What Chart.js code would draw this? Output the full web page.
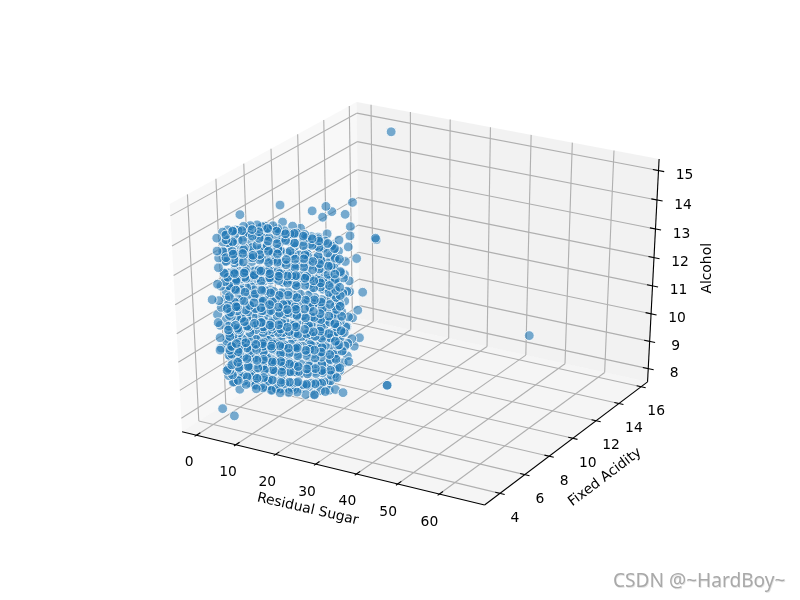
<!DOCTYPE html>
<html>
<head>
<meta charset="utf-8">
<style>html,body{margin:0;padding:0;background:#fff}canvas{display:block}</style>
<script src="https://cdn.jsdelivr.net/npm/chart.js@4"></script>
</head>
<body>
<canvas id="c" width="800" height="600"></canvas>
<script>
const xLabel = "Residual Sugar", yLabel = "Fixed Acidity", zLabel = "Alcohol";
const watermark = "CSDN @~HardBoy~";
const xTicks = [0,10,20,30,40,50,60];
const yTicks = [4,6,8,10,12,14,16];
const zTicks = [8,9,10,11,12,13,14,15];
const xLim = [-3.7,70.7], yLim = [2.78,16.58], zLim = [7.51,15.39];

const residualSugar = [
0.9,1.2,0.8,1.0,1.3,0.7,1.1,0.9,1.4,0.8,1.0,1.2,
1.0,1.3,0.8,1.1,1.5,0.9,1.2,0.7,1.4,1.0,0.8,1.6,1.1,0.9,1.3,1.0,
1.2,1.5,0.9,1.3,1.7,1.0,1.4,0.8,1.6,1.2,0.9,1.8,1.3,1.0,1.5,1.1,1.2,
1.4,1.1,1.8,1.5,1.0,1.6,1.3,1.9,1.2,1.5,1.7,1.1,1.4,1.8,1.2,1.6,1.3,
1.3,1.6,1.1,2.0,1.4,1.2,1.8,1.5,1.1,1.7,1.3,2.1,1.2,1.6,1.4,1.9,1.3,
2.0,1.6,2.4,1.8,2.6,1.5,2.2,1.9,2.7,1.6,2.1,2.5,1.7,2.3,1.9,2.6,2.0,
3.0,2.4,3.6,2.7,3.9,2.2,3.3,2.9,4.1,2.5,3.4,3.8,2.6,3.2,2.8,3.7,3.1,
4.0,3.3,4.7,3.6,5.1,3.1,4.4,3.8,5.3,3.4,4.5,4.9,3.5,4.2,3.7,4.8,4.1,
4.5,3.9,5.2,4.1,5.6,3.6,4.9,4.3,5.8,3.8,5.0,5.4,4.0,4.7,4.2,5.3,4.6,
5.0,4.3,5.8,4.6,6.2,4.0,5.4,4.8,6.4,4.2,5.5,6.0,4.4,5.2,4.7,5.9,5.1,
6.2,5.5,7.0,5.8,7.4,5.2,6.6,6.0,7.6,5.4,6.7,7.2,5.6,6.4,5.9,7.1,6.3,
7.0,6.2,7.9,6.5,8.3,6.0,7.5,6.8,8.5,6.1,7.6,8.1,6.3,7.2,6.7,8.0,7.1,
8.0,7.2,8.9,7.5,9.3,7.0,8.5,7.8,9.5,7.1,8.6,9.1,7.3,8.2,7.7,9.0,8.1,
9.0,8.2,9.9,8.5,10.3,8.0,9.5,8.8,10.5,8.1,9.6,10.1,8.3,9.2,8.7,10.0,9.1,
10.0,9.2,10.9,9.5,11.3,9.0,10.5,9.8,11.5,9.1,10.6,11.1,9.3,10.2,9.7,11.0,10.1,
11.0,10.2,11.9,10.5,12.3,10.0,11.5,10.8,12.5,10.1,11.6,12.1,10.3,11.2,10.7,12.0,11.1,
12.0,11.2,12.9,11.5,13.3,11.0,12.5,11.8,13.5,11.1,12.6,13.1,11.3,12.2,11.7,13.0,12.1,
13.0,12.2,13.9,12.5,14.3,12.0,13.5,12.8,14.5,12.1,13.6,14.1,12.3,13.2,12.7,14.0,13.1,
14.0,13.2,14.9,13.5,15.3,13.0,14.5,13.8,15.5,13.1,14.6,15.1,13.3,14.2,13.7,15.0,14.1,
15.0,14.3,15.8,14.5,16.2,14.1,15.5,14.8,16.4,14.2,15.6,16.0,14.4,15.2,14.7,
16.0,15.3,16.8,15.5,17.2,15.1,16.5,15.8,17.4,15.2,16.6,17.0,15.4,
16.0,15.4,16.6,15.7,16.9,15.2,16.3,15.8,
0.9,0.5,1.2,1.4,1.9,1.5,3.0,3.3,4.3,5.8,3.0,3.2,4.6,6.3,5.8,4.9,4.2,2.9,3.2,2.1,
8.7,10.5,10.4,10.8,11.2,12.7,14.4,15.7,16.3,14.7,18.1,23.1,21.2,19.2,20.3,7.8,5.8,4.2,2.1,1.7,
0.8,0.6,0.5,1.2,6.3,8.2,65.8,31.6,31.6,
2.5,2.1,3.0,2.3,2.9,2.0,2.7,3.2,2.2,2.8,2.4,3.1,2.0,2.6,2.3,
3.5,3.0,4.1,3.2,3.9,2.8,3.7,4.3,3.1,3.6,2.9,4.0,3.3,3.8,3.0,3.4,
4.0,3.4,4.7,3.7,4.5,3.2,4.2,4.9,3.5,4.1,3.3,4.6,3.8,4.4,3.6,3.9,4.3,
5.5,4.8,6.2,5.1,6.0,4.6,5.7,6.4,4.9,5.6,4.7,6.1,5.2,5.9,5.0,5.4,5.8,
6.5,5.8,7.2,6.1,7.0,5.6,6.7,7.4,5.9,6.6,5.7,7.1,6.2,6.9,6.0,6.4,6.8,
8.0,7.3,8.7,7.6,8.5,7.1,8.2,8.9,7.4,8.1,7.2,8.6,7.7,8.4,7.5,7.9,8.3,
9.5,8.8,10.2,9.1,10.0,8.6,9.7,10.4,8.9,9.6,8.7,10.1,9.2,9.9,9.0,9.4,9.8,
11.0,10.3,11.7,10.6,11.5,10.1,11.2,11.9,10.4,11.1,10.2,11.6,10.7,11.4,10.5,10.9,11.3,
12.5,11.8,13.2,12.1,13.0,11.6,12.7,13.4,11.9,12.6,11.7,13.1,12.2,12.9,12.0,12.4,12.8,
14.0,13.3,14.7,13.6,14.5,13.1,14.2,14.9,13.4,14.1,13.2,14.6,13.7,14.4,13.5,13.9,14.3,
15.5,14.8,16.2,15.1,16.0,14.6,15.7,16.4,14.9,15.6,14.7,16.1,15.2,15.9,15.0,15.4,15.8,
16.5,15.8,17.2,16.1,17.0,15.6,16.7,17.4,15.9,16.6,15.7,17.1,16.2,16.9,16.0,16.4,16.8,
18.0,17.3,18.7,17.6,18.5,17.1,18.2,18.9,17.4,18.1,17.2,18.6,17.7,18.4,17.5,18.3,
19.0,18.4,19.6,18.7,19.4,18.2,19.2,19.7,18.5,19.1,18.3,19.5,18.8,19.3,
19.5,19.0,20.1,19.2,19.8,18.8,19.6,20.0,19.1,19.4,
0.7,0.9,1.2,0.6,1.0,1.4,0.8,1.1,0.7,1.3,0.9,1.5,0.6,1.0,0.8,1.2,
1.0,1.3,0.8,1.6,1.1,0.9,1.4,1.8,0.7,1.2,1.5,1.0,1.7,0.8,1.3,1.1,
1.1,1.5,0.9,1.9,1.2,1.0,1.6,2.0,0.8,1.4,1.7,1.1,1.8,0.9,1.5,1.2,
1.2,1.6,1.0,2.1,1.3,1.1,1.7,2.3,0.9,1.5,1.9,1.2,2.0,1.0,
1.5,1.9,1.2,2.4,1.6,1.3,2.0,2.6,1.1,1.8,2.2,1.4,2.3,
1.0,1.5,1.2,2.0,1.1,1.4,1.8,2.5,1.3,1.7,2.2,1.0,
1.2,1.7,1.0,2.2,1.4,1.1,1.9,2.4,1.3,1.6,1.0,
1.5,2.0,1.3,2.5,1.7,1.4,2.2,2.7,
1.1,1.9,0.8,2.4,1.4,0.7,2.8,1.0,2.2,0.9,2.6,1.3,1.7,
1.5,2.4,0.9,3.0,1.9,0.8,3.3,1.2,2.7,1.0,3.1,1.6,2.1,1.3,
2.1,3.2,1.3,3.8,2.5,1.2,4.2,1.8,3.4,1.5,3.9,2.2,2.9,1.9,
4.1,5.2,3.1,5.8,4.5,3.0,6.2,3.7,5.4,3.3,5.9,4.2,4.9,3.9,4.5,
5.1,6.3,4.0,6.9,5.5,3.9,7.2,4.6,6.4,4.2,6.9,5.2,5.9,4.8,5.5,
7.1,8.3,5.9,8.9,7.5,5.8,9.2,6.6,8.4,6.2,8.9,7.2,7.9,6.8,7.5,
9.1,10.3,7.9,10.9,9.5,7.8,11.2,8.6,10.4,8.2,10.9,9.2,9.9,8.8,9.5,
11.1,12.3,9.9,12.9,11.5,9.8,13.2,10.6,12.4,10.2,12.9,11.2,11.9,10.8,11.5,
13.1,14.2,12.0,14.7,13.5,11.9,15.0,12.6,14.3,12.2,14.7,13.2,13.9,12.8,13.5,
15.1,16.1,14.1,16.6,15.5,14.0,16.8,14.6,16.2,14.3,16.6,15.2,15.8,
1.0,1.4,2.0,4.0,5.0,7.0,9.0,11.0,13.0,15.0,16.0,
2.2,2.6,3.2,5.2,6.2,8.2,10.2,12.2,14.2,16.2,17.2,
1.6,2.0,2.6,4.6,5.6,7.6,9.6,11.6,13.6,15.6,16.6,
1.3,2.2,2.8,3.6,5.8,6.6,9.8,10.6,13.8,14.6,16.8,
1.9,1.1,3.4,4.4,4.6,8.4,8.6,12.4,12.6,16.4,15.6
];
const fixedAcidity = [
4.6,4.5,4.7,4.6,4.4,4.8,4.5,4.7,4.3,4.6,4.5,4.4,
5.0,4.9,5.1,5.0,4.8,5.2,5.0,5.1,4.9,5.0,5.2,4.8,5.0,5.1,4.9,5.0,
5.3,5.2,5.4,5.3,5.1,5.4,5.3,5.4,5.2,5.3,5.4,5.2,5.3,5.4,5.2,5.3,5.3,
5.6,5.7,5.5,5.6,5.7,5.5,5.6,5.4,5.7,5.6,5.5,5.7,5.6,5.5,5.7,5.6,5.5,
6.0,5.9,6.1,5.8,6.0,6.1,5.9,6.0,6.1,5.9,6.0,5.8,6.1,6.0,5.9,5.8,6.0,
6.2,6.3,6.1,6.2,6.1,6.4,6.2,6.3,6.1,6.3,6.2,6.1,6.3,6.2,6.3,6.1,6.2,
6.4,6.5,6.3,6.4,6.3,6.6,6.4,6.5,6.3,6.5,6.4,6.3,6.5,6.4,6.5,6.3,6.4,
6.6,6.7,6.5,6.6,6.5,6.8,6.6,6.7,6.5,6.7,6.6,6.5,6.7,6.6,6.7,6.5,6.6,
6.8,6.9,6.7,6.8,6.7,7.0,6.8,6.9,6.7,6.9,6.8,6.7,6.9,6.8,6.9,6.7,6.8,
7.0,7.1,6.9,7.0,6.9,7.2,7.0,7.1,6.9,7.1,7.0,6.9,7.1,7.0,7.1,6.9,7.0,
7.1,7.0,6.8,7.1,7.0,7.1,6.9,7.2,6.8,7.0,7.1,6.8,7.2,6.9,7.0,7.1,6.9,
7.2,7.3,7.1,7.2,7.1,7.4,7.2,7.3,7.1,7.3,7.2,7.1,7.3,7.2,7.3,7.1,7.2,
7.4,7.5,7.3,7.4,7.3,7.6,7.4,7.5,7.3,7.5,7.4,7.3,7.5,7.4,7.5,7.3,7.4,
7.5,7.6,7.4,7.5,7.4,7.7,7.5,7.6,7.4,7.6,7.5,7.4,7.6,7.5,7.6,7.4,7.5,
7.7,7.8,7.6,7.7,7.6,7.9,7.7,7.8,7.6,7.8,7.7,7.6,7.8,7.7,7.8,7.6,7.7,
8.0,8.1,7.9,8.0,7.9,8.2,8.0,8.1,7.9,8.1,8.0,7.9,8.1,8.0,8.1,7.9,8.0,
8.2,8.3,8.1,8.2,8.1,8.4,8.2,8.3,8.1,8.3,8.2,8.1,8.3,8.2,8.3,8.1,8.2,
8.4,8.5,8.3,8.4,8.3,8.6,8.4,8.5,8.3,8.5,8.4,8.3,8.5,8.4,8.5,8.3,8.4,
8.6,8.7,8.5,8.6,8.5,8.8,8.6,8.7,8.5,8.7,8.6,8.5,8.7,8.6,8.7,8.5,8.6,
8.8,8.9,8.7,8.8,8.7,9.0,8.8,8.9,8.7,8.9,8.8,8.7,8.9,8.8,8.9,
9.0,9.1,8.9,9.0,8.9,9.2,9.0,9.1,8.9,9.1,9.0,8.9,9.1,
9.5,9.6,9.4,9.5,9.4,9.7,9.5,9.6,
9.2,6.4,11.5,12.5,12.8,12.2,13.5,14.0,13.5,13.0,15.9,15.9,12.5,12.7,13.5,11.5,11.0,9.5,10.0,9.0,
12.0,12.5,11.5,12.0,11.0,11.0,11.0,10.0,10.0,9.0,9.0,7.0,7.0,6.0,6.5,6.5,6.5,6.0,5.0,4.7,
4.6,4.5,4.2,4.4,3.8,15.6,7.8,7.8,7.8,
4.8,4.9,4.6,4.8,4.7,5.0,4.8,4.7,4.9,4.6,4.8,4.7,5.0,4.8,4.9,
5.0,5.1,4.8,5.1,4.9,5.3,5.0,4.8,5.2,4.9,5.3,4.8,5.1,4.9,5.2,5.0,
5.5,5.7,5.3,5.6,5.4,5.8,5.5,5.2,5.7,5.4,5.8,5.3,5.6,5.4,5.7,5.5,5.3,
5.8,6.0,5.6,5.9,5.7,6.1,5.8,5.5,6.0,5.7,6.1,5.6,5.9,5.7,6.0,5.8,5.6,
6.0,6.2,5.8,6.1,5.9,6.3,6.0,5.7,6.2,5.9,6.3,5.8,6.1,5.9,6.2,6.0,5.8,
6.2,6.4,6.0,6.3,6.1,6.5,6.2,5.9,6.4,6.1,6.5,6.0,6.3,6.1,6.4,6.2,6.0,
6.4,6.6,6.2,6.5,6.3,6.7,6.4,6.1,6.6,6.3,6.7,6.2,6.5,6.3,6.6,6.4,6.2,
6.6,6.8,6.4,6.7,6.5,6.9,6.6,6.3,6.8,6.5,6.9,6.4,6.7,6.5,6.8,6.6,6.4,
6.8,7.0,6.6,6.9,6.7,7.1,6.8,6.5,7.0,6.7,7.1,6.6,6.9,6.7,7.0,6.8,6.6,
7.0,7.2,6.8,7.1,6.9,7.3,7.0,6.7,7.2,6.9,7.3,6.8,7.1,6.9,7.2,7.0,6.8,
7.2,7.4,7.0,7.3,7.1,7.5,7.2,6.9,7.4,7.1,7.5,7.0,7.3,7.1,7.4,7.2,7.0,
7.4,7.6,7.2,7.5,7.3,7.7,7.4,7.1,7.6,7.3,7.7,7.2,7.5,7.3,7.6,7.4,7.2,
7.6,7.8,7.4,7.7,7.5,7.9,7.6,7.3,7.8,7.5,7.9,7.4,7.7,7.5,7.8,7.4,
7.8,8.0,7.6,7.9,7.7,8.1,7.8,7.5,8.0,7.7,8.1,7.6,7.9,7.7,
8.0,8.2,7.8,8.1,7.9,8.3,8.0,7.7,8.2,7.9,
6.0,5.8,5.7,6.1,5.9,5.6,6.0,5.8,6.2,5.7,5.9,5.6,6.1,5.8,6.0,5.7,
7.0,6.9,7.1,6.8,7.0,7.2,6.9,6.7,7.2,7.0,6.8,7.1,6.7,7.2,6.9,7.0,
8.0,7.9,8.1,7.8,8.0,8.2,7.9,7.7,8.2,8.0,7.8,8.1,7.7,8.2,7.9,8.0,
9.0,8.9,9.1,8.8,9.0,9.2,8.9,8.7,9.2,9.0,8.8,9.1,8.7,9.2,
10.0,9.9,10.1,9.7,10.0,10.2,9.9,9.7,10.2,10.0,9.8,10.1,9.7,
11.0,10.9,11.1,10.7,11.0,11.2,10.9,10.7,11.2,11.0,10.8,11.1,
12.0,11.9,12.1,11.7,12.0,12.2,11.9,11.7,12.2,12.0,11.8,
13.0,12.9,13.1,12.7,13.0,13.2,12.9,12.7,
5.1,4.7,5.3,4.6,4.9,5.4,4.6,5.2,4.8,5.4,4.7,5.1,4.9,
5.7,5.2,6.0,5.1,5.5,6.1,5.2,5.9,5.3,6.1,5.2,5.7,5.4,5.8,
6.3,5.8,6.7,5.7,6.1,6.8,5.8,6.5,5.9,6.7,5.8,6.3,6.0,6.4,
6.7,6.2,7.1,6.1,6.5,7.2,6.2,6.9,6.3,7.1,6.2,6.7,6.4,6.8,6.3,
7.1,6.6,7.5,6.5,6.9,7.6,6.6,7.3,6.7,7.5,6.6,7.1,6.8,7.2,6.7,
7.3,6.8,7.7,6.7,7.1,7.8,6.8,7.5,6.9,7.7,6.8,7.3,7.0,7.4,6.9,
7.6,7.1,8.0,7.0,7.4,8.1,7.1,7.8,7.2,8.0,7.1,7.6,7.3,7.7,7.2,
8.1,7.6,8.5,7.5,7.9,8.6,7.6,8.3,7.7,8.5,7.6,8.1,7.8,8.2,7.7,
8.5,8.0,8.9,7.9,8.3,9.0,8.0,8.7,8.1,8.9,8.0,8.5,8.2,8.6,8.1,
8.9,8.4,9.2,8.3,8.7,9.3,8.4,9.1,8.5,9.2,8.4,8.9,8.6,
5.0,5.6,6.2,6.6,7.0,7.2,7.5,8.0,8.4,8.8,9.0,
5.0,5.6,6.2,6.6,7.0,7.2,7.5,8.0,8.4,8.8,9.0,
5.0,5.6,6.2,6.6,7.0,7.2,7.5,8.0,8.4,8.8,9.0,
5.1,5.5,6.3,6.5,7.1,7.1,7.6,7.9,8.5,8.7,9.1,
4.9,5.7,6.1,6.7,6.9,7.3,7.4,8.1,8.3,8.9,8.9
];
const alcohol = [
13.9,13.5,13.2,12.9,12.4,12.2,11.8,11.5,11.1,10.9,10.5,10.1,
14.0,13.7,13.3,13.0,12.7,12.3,12.0,11.7,11.4,11.0,10.7,10.3,10.0,9.7,9.3,9.0,
14.0,13.6,13.4,13.0,12.6,12.4,12.0,11.6,11.3,11.0,10.7,10.4,10.0,9.7,9.4,9.0,8.7,
13.9,13.5,13.2,12.8,12.5,12.1,11.9,11.5,11.2,10.9,10.5,10.2,9.9,9.5,9.2,8.9,8.7,
13.8,13.5,13.1,12.8,12.4,12.1,11.8,11.4,11.1,10.8,10.4,10.1,9.8,9.4,9.1,8.8,8.5,
13.9,13.5,13.2,12.9,12.5,12.2,11.8,11.5,11.0,10.7,10.4,10.0,9.7,9.3,9.0,8.7,8.4,
13.9,13.6,13.2,12.8,12.4,12.1,11.7,11.4,11.1,10.7,10.3,10.0,9.6,9.3,9.0,8.6,8.3,
13.9,13.5,13.1,12.8,12.4,12.0,11.7,11.3,11.0,10.6,10.3,9.9,9.6,9.2,8.9,8.5,8.2,
13.8,13.4,13.1,12.7,12.3,12.0,11.6,11.3,10.9,10.6,10.2,9.9,9.5,9.2,8.8,8.5,8.2,
13.7,13.4,13.0,12.7,12.3,11.9,11.6,11.2,10.9,10.5,10.2,9.8,9.5,9.1,8.8,8.4,8.0,
13.8,13.4,13.0,12.6,12.3,11.9,11.6,11.2,10.8,10.5,10.1,9.8,9.4,9.1,8.7,8.4,8.1,
13.7,13.3,13.0,12.6,12.2,11.9,11.5,11.2,10.8,10.4,10.1,9.7,9.4,9.0,8.7,8.3,8.0,
13.6,13.3,12.9,12.5,12.2,11.8,11.5,11.1,10.8,10.4,10.0,9.7,9.3,9.0,8.6,8.3,8.0,
13.5,13.2,12.8,12.5,12.1,11.8,11.4,11.1,10.7,10.3,10.0,9.6,9.3,8.9,8.6,8.3,8.0,
13.5,13.1,12.8,12.4,12.1,11.7,11.4,11.0,10.7,10.3,9.9,9.6,9.2,8.9,8.5,8.2,8.0,
13.4,13.1,12.7,12.4,12.0,11.7,11.3,11.0,10.6,10.3,9.9,9.6,9.2,8.9,8.5,8.2,8.0,
13.3,13.0,12.6,12.3,11.9,11.6,11.2,10.9,10.5,10.2,9.8,9.5,9.1,8.8,8.5,8.2,8.0,
13.2,12.9,12.5,12.2,11.8,11.5,11.1,10.8,10.4,10.1,9.8,9.4,9.1,8.8,8.5,8.2,8.0,
13.1,12.8,12.4,12.1,11.8,11.4,11.1,10.7,10.4,10.1,9.7,9.4,9.1,8.8,8.5,8.2,8.0,
12.9,12.5,12.2,11.8,11.5,11.2,10.8,10.5,10.2,9.8,9.5,9.2,8.9,8.5,8.2,
12.7,12.3,12.0,11.6,11.3,10.9,10.6,10.2,9.9,9.6,9.2,8.8,8.4,
12.2,11.7,11.2,10.8,10.3,9.8,9.3,8.8,
13.8,14.2,13.0,12.9,12.65,12.6,12.4,12.7,12.0,11.85,10.9,10.85,11.8,11.55,10.9,12.3,12.3,13.05,12.85,13.3,
10.6,10.1,10.4,9.6,9.3,9.67,9.0,9.3,9.05,9.8,8.85,8.5,8.55,8.6,8.6,8.3,8.5,8.45,8.8,9.3,
10.1,11.3,11.9,8.0,8.1,14.9,11.65,8.8,8.8,
14.0,13.8,13.3,13.1,12.6,12.2,11.9,11.4,11.2,10.8,10.5,10.2,9.8,9.5,9.1,
14.1,13.7,13.4,13.1,12.7,12.3,12.1,11.6,11.3,10.9,10.6,10.3,9.9,9.6,9.3,8.9,
14.0,13.6,13.3,12.9,12.6,12.3,11.9,11.7,11.2,10.9,10.6,10.2,9.9,9.6,9.2,8.9,8.7,
14.0,13.7,13.2,13.0,12.5,12.3,11.8,11.6,11.2,10.8,10.6,10.1,9.8,9.5,9.1,8.8,8.5,
13.9,13.6,13.2,12.9,12.6,12.1,11.9,11.4,11.1,10.8,10.5,10.1,9.7,9.5,9.0,8.8,8.5,
14.0,13.5,13.3,12.8,12.5,12.2,11.8,11.5,11.1,10.7,10.5,10.0,9.8,9.4,9.0,8.7,8.4,
13.9,13.4,13.2,12.8,12.4,12.1,11.7,11.4,11.0,10.7,10.4,10.0,9.6,9.4,8.9,8.6,8.3,
13.8,13.5,13.0,12.7,12.4,12.0,11.7,11.3,11.0,10.6,10.3,9.9,9.6,9.3,8.9,8.6,8.3,
13.8,13.4,13.0,12.6,12.4,11.9,11.6,11.3,10.9,10.6,10.2,9.9,9.5,9.2,8.9,8.6,8.3,
13.7,13.3,13.0,12.6,12.3,11.9,11.5,11.3,10.8,10.5,10.2,9.8,9.5,9.1,8.8,8.5,8.2,
13.6,13.3,12.9,12.5,12.2,11.8,11.5,11.2,10.8,10.4,10.1,9.8,9.4,9.1,8.8,8.5,8.2,
13.5,13.2,12.8,12.5,12.1,11.8,11.4,11.1,10.7,10.4,10.0,9.7,9.4,9.0,8.8,8.5,8.3,
13.4,13.0,12.7,12.3,12.0,11.6,11.3,11.0,10.6,10.3,10.0,9.6,9.3,9.0,8.7,8.3,
13.2,12.8,12.4,12.1,11.8,11.4,11.1,10.7,10.4,10.0,9.7,9.4,9.0,8.7,
12.8,12.3,11.9,11.5,11.2,10.7,10.3,9.9,9.5,9.0,
13.8,13.4,13.0,12.7,12.2,11.9,11.5,11.2,10.7,10.4,10.0,9.6,9.3,9.0,8.6,8.3,
13.6,13.2,12.8,12.5,12.1,11.7,11.3,11.0,10.6,10.2,9.9,9.5,9.1,8.8,8.5,8.2,
13.4,13.0,12.6,12.3,11.9,11.6,11.1,10.8,10.5,10.1,9.7,9.4,9.0,8.7,8.4,8.1,
13.0,12.6,12.2,11.9,11.5,11.1,10.8,10.4,10.0,9.7,9.3,8.9,8.6,8.2,
12.6,12.2,11.9,11.5,11.1,10.7,10.4,10.0,9.6,9.3,8.9,8.5,8.1,
12.2,11.8,11.4,11.1,10.7,10.3,10.0,9.6,9.2,8.9,8.5,8.1,
11.9,11.5,11.1,10.7,10.3,10.0,9.6,9.2,8.9,8.5,8.1,
11.4,11.0,10.6,10.2,9.9,9.5,9.1,8.6,
13.85,13.45,13.15,12.75,12.35,11.95,11.55,11.15,10.85,10.45,10.05,9.65,9.25,
13.75,13.35,12.95,12.65,12.25,11.85,11.45,11.05,10.65,10.35,9.95,9.55,9.15,8.75,
13.65,13.25,12.85,12.55,12.15,11.65,11.35,10.95,10.55,10.15,9.75,9.45,9.05,8.65,
13.75,13.35,12.95,12.55,12.25,11.75,11.45,11.05,10.65,10.25,9.85,9.45,9.05,8.65,8.35,
13.65,13.25,12.85,12.45,12.05,11.75,11.35,10.95,10.55,10.25,9.85,9.45,9.05,8.65,8.25,
13.55,13.15,12.75,12.35,12.05,11.65,11.25,10.85,10.55,10.15,9.75,9.35,8.95,8.55,8.15,
13.45,13.05,12.65,12.25,11.95,11.55,11.15,10.85,10.45,10.05,9.65,9.35,8.95,8.55,8.15,
13.25,12.85,12.55,12.15,11.85,11.45,11.05,10.75,10.35,9.95,9.55,9.25,8.85,8.55,8.15,
13.05,12.75,12.35,11.95,11.65,11.25,10.95,10.55,10.25,9.85,9.55,9.15,8.85,8.45,8.15,
12.75,12.35,11.95,11.65,11.25,10.95,10.65,10.25,9.95,9.55,9.25,8.85,8.45,
10.33,10.17,10.02,9.96,9.88,9.88,9.85,9.78,9.73,9.67,9.64,
10.08,9.92,9.77,9.71,9.63,9.63,9.6,9.53,9.48,9.42,9.39,
10.54,10.38,10.23,10.17,10.09,10.09,10.06,9.99,9.94,9.88,9.85,
12.45,12.29,12.13,12.08,11.99,12.0,11.97,11.9,11.84,11.79,11.76,
11.56,11.41,11.25,11.2,11.1,11.1,11.08,11.0,10.96,10.9,10.87
];

// View of the 3D box: elevation 30, azimuth -60, distance 10
const D2R = Math.PI / 180;
const EL = 30 * D2R, AZ = -60 * D2R, DIST = 10;
const N = [Math.cos(EL)*Math.cos(AZ), Math.cos(EL)*Math.sin(AZ), Math.sin(EL)];
const U = [-N[1], N[0], 0].map(v => v / Math.hypot(N[0], N[1]));
const W = [N[1]*U[2]-N[2]*U[1], N[2]*U[0]-N[0]*U[2], N[0]*U[1]-N[1]*U[0]];
function proj(fx, fy, fz) {
  const p = [fx-.5, fy-.5, fz-.5];
  const dot = a => a[0]*p[0]+a[1]*p[1]+a[2]*p[2];
  const d = DIST - dot(N);
  return { x: dot(U)/d, y: dot(W)/d, d };
}
const fX = v => (v-xLim[0])/(xLim[1]-xLim[0]);
const fY = v => (v-yLim[0])/(yLim[1]-yLim[0]);
const fZ = v => (v-zLim[0])/(zLim[1]-zLim[0]);

const points = residualSugar.map((s,i) => proj(fX(s), fY(fixedAcidity[i]), fZ(alcohol[i])))
  .sort((a,b) => b.d - a.d);

const box3d = {
  id: 'box3d',
  beforeDatasetsDraw(chart) {
    const c = chart.ctx, sx = chart.scales.x, sy = chart.scales.y;
    const P = (a,b,e) => { const q = proj(a,b,e); return [sx.getPixelForValue(q.x), sy.getPixelForValue(q.y)]; };
    const poly = (pts, col) => { c.beginPath(); pts.forEach((t,i)=>{ const q=P(...t); i?c.lineTo(q[0],q[1]):c.moveTo(q[0],q[1]); }); c.closePath(); c.fillStyle=col; c.fill(); };
    const line = (a,b,col,w) => { const p=P(...a), q=P(...b); c.beginPath(); c.moveTo(p[0],p[1]); c.lineTo(q[0],q[1]); c.strokeStyle=col; c.lineWidth=w; c.stroke(); };
    c.save();
    poly([[0,0,0],[0,1,0],[0,1,1],[0,0,1]], 'rgba(242,242,242,0.5)');
    poly([[0,1,0],[1,1,0],[1,1,1],[0,1,1]], 'rgba(230,230,230,0.5)');
    poly([[0,0,0],[1,0,0],[1,1,0],[0,1,0]], 'rgba(236,236,236,0.5)');
    const G = '#b0b0b0', GW = 1.11;
    xTicks.forEach(v => { const f=fX(v); line([f,0,0],[f,1,0],G,GW); line([f,1,0],[f,1,1],G,GW); });
    yTicks.forEach(v => { const f=fY(v); line([0,f,0],[1,f,0],G,GW); line([0,f,0],[0,f,1],G,GW); });
    zTicks.forEach(v => { const f=fZ(v); line([0,0,f],[0,1,f],G,GW); line([0,1,f],[1,1,f],G,GW); });
    line([0,0,0],[1,0,0],'#000',1.11);
    line([1,0,0],[1,1,0],'#000',1.11);
    line([1,1,0],[1,1,1],'#000',1.11);
    xTicks.forEach(v => { const f=fX(v); line([f,-.01,0],[f,.02,0],'#000',1.11); });
    yTicks.forEach(v => { const f=fY(v); line([.985,f,0],[1.015,f,0],'#000',1.11); });
    zTicks.forEach(v => { const f=fZ(v); line([.982,1,f],[1.018,1,f],'#000',1.11); });
    c.fillStyle = '#000';
    c.font = '13.89px "DejaVu Sans"';
    c.textAlign = 'center';
    c.textBaseline = 'middle';
    xTicks.forEach((v,i) => { const p=P(fX(v),0,0); c.fillText(String(v), p[0]-7.4-i*.43, p[1]+27.5+i*.1); });
    yTicks.forEach(v => { const p=P(1,fY(v),0); c.fillText(String(v), p[0]+15, p[1]+25); });
    zTicks.forEach(v => { const p=P(1,1,fZ(v)); c.fillText(String(v), p[0]+26, p[1]+5); });
    const rot = (t,x,y,a) => { c.save(); c.translate(x,y); c.rotate(a*D2R); c.fillText(t,0,0); c.restore(); };
    rot(xLabel, 307.7, 509.3, 13);
    rot(yLabel, 605, 477.3, -37);
    rot(zLabel, 707.3, 268.3, -90);
    c.restore();
  },
  afterDraw(chart) {
    const c = chart.ctx;
    c.save();
    c.font = '19.1px "Noto Sans"';
    c.textAlign = 'left';
    c.textBaseline = 'alphabetic';
    c.fillStyle = 'rgba(120,120,120,0.2)';
    c.fillText(watermark, 613.7, 587.5);
    c.fillStyle = '#a9a9a9';
    c.fillText(watermark, 613, 587);
    c.restore();
  }
};

new Chart(document.getElementById('c'), {
  type: 'scatter',
  data: { datasets: [{
    data: points,
    backgroundColor: 'rgba(31,119,180,0.6)',
    borderColor: 'rgba(255,255,255,0.8)',
    borderWidth: 1,
    pointRadius: 4.9,
    clip: false
  }]},
  options: {
    responsive: false,
    animation: false,
    parsing: false,
    normalized: false,
    layout: { padding: 0, autoPadding: false },
    plugins: { legend: { display: false }, tooltip: { enabled: false } },
    scales: {
      x: { type: 'linear', display: false, min: -0.11982, max: 0.10928 },
      y: { type: 'linear', display: false, min: -0.11674, max: 0.11412 }
    }
  },
  plugins: [box3d]
});
</script>
</body>
</html>
